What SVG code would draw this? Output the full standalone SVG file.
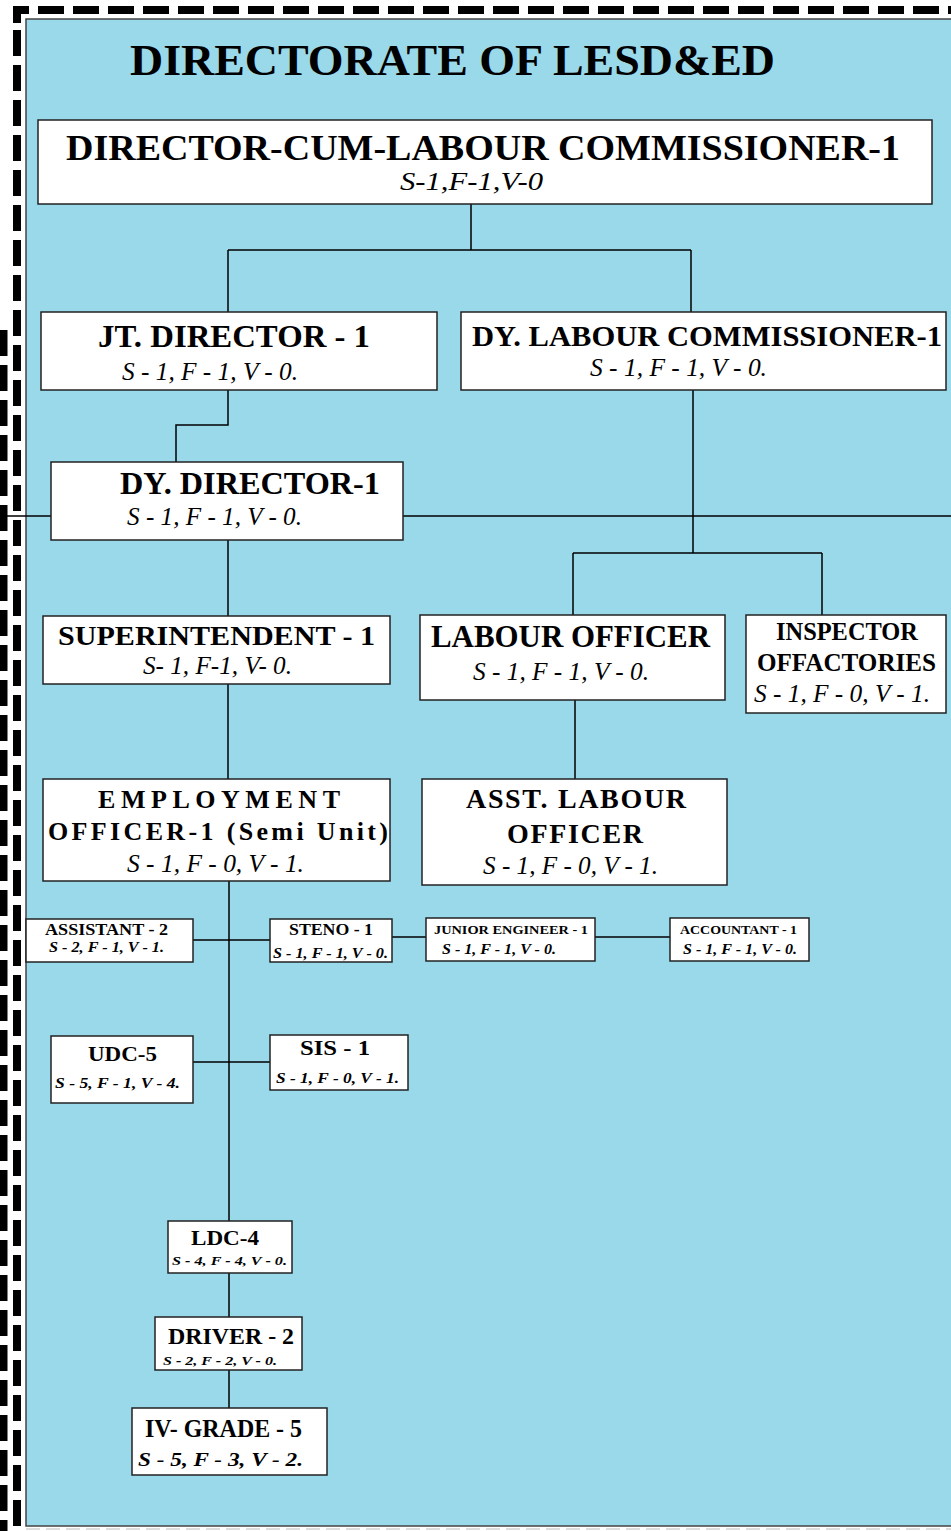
<svg xmlns="http://www.w3.org/2000/svg" width="951" height="1531" viewBox="0 0 951 1531">
<style>
.bx{fill:#fff;stroke:#222;stroke-width:1.5}
.t{font-family:"Liberation Serif","Times New Roman",serif;font-weight:bold;fill:#000}
.i{font-family:"Liberation Serif","Times New Roman",serif;font-style:italic;fill:#000}
.bi{font-family:"Liberation Serif","Times New Roman",serif;font-style:italic;font-weight:bold;fill:#000}
.c{fill:none;stroke:#000;stroke-width:1.5}
.d{stroke:#000;stroke-width:8;stroke-dasharray:26 9;fill:none}
</style>
<rect x="0" y="0" width="951" height="1531" fill="#fff"/>
<rect x="26" y="19" width="930" height="1507" fill="#9AD9E9" stroke="#444" stroke-width="1.5"/>
<g id="border">
<path d="M13 10H29M17 6V23" stroke="#000" stroke-width="8" fill="none"/>
<line class="d" x1="38" y1="10" x2="951" y2="10"/>
<line class="d" x1="17" y1="30" x2="17" y2="1531"/>
<line class="d" x1="3.5" y1="330" x2="3.5" y2="1531"/>
<line x1="26" y1="1529" x2="951" y2="1529" stroke="#ddd" stroke-width="2" stroke-dasharray="14 6"/>
</g>
<text id="title" class="t" x="130" y="75" font-size="44" textLength="645" lengthAdjust="spacingAndGlyphs">DIRECTORATE OF LESD&amp;ED</text>
<g id="connectors">
<path class="c" d="M471 204V250M228 250H691M228 250V312M691 250V312"/>
<path class="c" d="M228 390V425H176V462"/>
<path class="c" d="M0 516H51M403 516H951"/>
<path class="c" d="M693 390V553M573 553H822M573 553V615M822 553V615"/>
<path class="c" d="M228 540V616M228 684V779M575 700V779"/>
<path class="c" d="M229 881V1221M193 940H270M392 937H426M595 937H670M193 1062H270"/>
<path class="c" d="M229 1273V1317M229 1370V1408"/>
</g>
<g id="n-director">
<rect class="bx" x="38" y="120" width="894" height="84"/>
<text class="t" x="66" y="160" font-size="36" textLength="834" lengthAdjust="spacingAndGlyphs">DIRECTOR-CUM-LABOUR COMMISSIONER-1</text>
<text class="i" x="400" y="190" font-size="26" textLength="143" lengthAdjust="spacingAndGlyphs">S-1,F-1,V-0</text>
</g>
<g id="n-jtdirector">
<rect class="bx" x="41" y="312" width="396" height="78"/>
<text class="t" x="98" y="347" font-size="32" textLength="272" lengthAdjust="spacingAndGlyphs">JT. DIRECTOR - 1</text>
<text class="i" x="122" y="380" font-size="26" textLength="176" lengthAdjust="spacingAndGlyphs">S - 1, F - 1, V - 0.</text>
</g>
<g id="n-dlc">
<rect class="bx" x="461" y="312" width="485" height="78"/>
<text class="t" x="472" y="346" font-size="30" textLength="470" lengthAdjust="spacingAndGlyphs">DY. LABOUR COMMISSIONER-1</text>
<text class="i" x="590" y="376" font-size="26" textLength="177" lengthAdjust="spacingAndGlyphs">S - 1, F - 1, V - 0.</text>
</g>
<g id="n-dydirector">
<rect class="bx" x="51" y="462" width="352" height="78"/>
<text class="t" x="120" y="494" font-size="32" textLength="260" lengthAdjust="spacingAndGlyphs">DY. DIRECTOR-1</text>
<text class="i" x="127" y="525" font-size="26" textLength="175" lengthAdjust="spacingAndGlyphs">S - 1, F - 1, V - 0.</text>
</g>
<g id="n-superintendent">
<rect class="bx" x="43" y="616" width="347" height="68"/>
<text class="t" x="58" y="645" font-size="28" textLength="317" lengthAdjust="spacingAndGlyphs">SUPERINTENDENT  - 1</text>
<text class="i" x="143" y="674" font-size="26" textLength="149" lengthAdjust="spacingAndGlyphs">S- 1, F-1, V- 0.</text>
</g>
<g id="n-labourofficer">
<rect class="bx" x="420" y="615" width="305" height="85"/>
<text class="t" x="431" y="647" font-size="31" textLength="279" lengthAdjust="spacingAndGlyphs">LABOUR OFFICER</text>
<text class="i" x="473" y="680" font-size="26" textLength="176" lengthAdjust="spacingAndGlyphs">S - 1, F - 1, V - 0.</text>
</g>
<g id="n-inspector">
<rect class="bx" x="746" y="615" width="200" height="98"/>
<text class="t" x="776" y="640" font-size="26" textLength="142" lengthAdjust="spacingAndGlyphs">INSPECTOR</text>
<text class="t" x="757" y="671" font-size="26" textLength="179" lengthAdjust="spacingAndGlyphs">OFFACTORIES</text>
<text class="i" x="754" y="702" font-size="26" textLength="176" lengthAdjust="spacingAndGlyphs">S - 1, F - 0, V - 1.</text>
</g>
<g id="n-employment">
<rect class="bx" x="43" y="779" width="347" height="102"/>
<text class="t" x="98" y="808" font-size="26" textLength="242" lengthAdjust="spacing">EMPLOYMENT</text>
<text class="t" x="48" y="840" font-size="26" textLength="340" lengthAdjust="spacing">OFFICER-1 (Semi Unit)</text>
<text class="i" x="127" y="872" font-size="26" textLength="177" lengthAdjust="spacingAndGlyphs">S - 1, F - 0, V - 1.</text>
</g>
<g id="n-alo">
<rect class="bx" x="422" y="779" width="305" height="106"/>
<text class="t" x="466" y="808" font-size="28" textLength="220" lengthAdjust="spacing">ASST.  LABOUR</text>
<text class="t" x="507" y="843" font-size="28" textLength="136" lengthAdjust="spacing">OFFICER</text>
<text class="i" x="483" y="874" font-size="26" textLength="175" lengthAdjust="spacingAndGlyphs">S - 1, F - 0, V - 1.</text>
</g>
<g id="n-assistant">
<rect class="bx" x="26" y="919" width="167" height="43"/>
<text class="t" x="45" y="935" font-size="16" textLength="123" lengthAdjust="spacingAndGlyphs">ASSISTANT - 2</text>
<text class="bi" x="49" y="952" font-size="14" textLength="115" lengthAdjust="spacingAndGlyphs">S - 2, F - 1, V - 1.</text>
</g>
<g id="n-steno">
<rect class="bx" x="270" y="919" width="122" height="43"/>
<text class="t" x="289" y="935" font-size="16" textLength="84" lengthAdjust="spacingAndGlyphs">STENO - 1</text>
<text class="bi" x="273" y="958" font-size="14" textLength="115" lengthAdjust="spacingAndGlyphs">S - 1, F - 1, V - 0.</text>
</g>
<g id="n-je">
<rect class="bx" x="426" y="918" width="169" height="43"/>
<text class="t" x="434" y="934" font-size="12" textLength="154" lengthAdjust="spacingAndGlyphs">JUNIOR ENGINEER - 1</text>
<text class="bi" x="442" y="954" font-size="14" textLength="114" lengthAdjust="spacingAndGlyphs">S - 1, F - 1, V - 0.</text>
</g>
<g id="n-accountant">
<rect class="bx" x="670" y="918" width="139" height="43"/>
<text class="t" x="680" y="934" font-size="12" textLength="117" lengthAdjust="spacingAndGlyphs">ACCOUNTANT - 1</text>
<text class="bi" x="683" y="954" font-size="14" textLength="114" lengthAdjust="spacingAndGlyphs">S - 1, F - 1, V - 0.</text>
</g>
<g id="n-udc">
<rect class="bx" x="51" y="1036" width="142" height="67"/>
<text class="t" x="88" y="1061" font-size="20" textLength="69" lengthAdjust="spacingAndGlyphs">UDC-5</text>
<text class="bi" x="55" y="1088" font-size="15" textLength="125" lengthAdjust="spacingAndGlyphs">S - 5, F - 1, V - 4.</text>
</g>
<g id="n-sis">
<rect class="bx" x="270" y="1035" width="138" height="55"/>
<text class="t" x="300" y="1055" font-size="22" textLength="70" lengthAdjust="spacingAndGlyphs">SIS  - 1</text>
<text class="bi" x="276" y="1083" font-size="15" textLength="123" lengthAdjust="spacingAndGlyphs">S - 1, F - 0, V - 1.</text>
</g>
<g id="n-ldc">
<rect class="bx" x="168" y="1221" width="124" height="52"/>
<text class="t" x="191" y="1245" font-size="22" textLength="68" lengthAdjust="spacingAndGlyphs">LDC-4</text>
<text class="bi" x="172" y="1265" font-size="13" textLength="115" lengthAdjust="spacingAndGlyphs">S - 4, F - 4, V - 0.</text>
</g>
<g id="n-driver">
<rect class="bx" x="155" y="1317" width="147" height="53"/>
<text class="t" x="168" y="1344" font-size="24" textLength="126" lengthAdjust="spacingAndGlyphs">DRIVER - 2</text>
<text class="bi" x="163" y="1365" font-size="13" textLength="114" lengthAdjust="spacingAndGlyphs">S - 2, F - 2, V - 0.</text>
</g>
<g id="n-ivgrade">
<rect class="bx" x="132" y="1408" width="195" height="67"/>
<text class="t" x="145" y="1437" font-size="26" textLength="157" lengthAdjust="spacingAndGlyphs">IV- GRADE - 5</text>
<text class="bi" x="138" y="1466" font-size="19" textLength="165" lengthAdjust="spacingAndGlyphs">S  -  5,  F  -  3,  V  -  2.</text>
</g>
</svg>
